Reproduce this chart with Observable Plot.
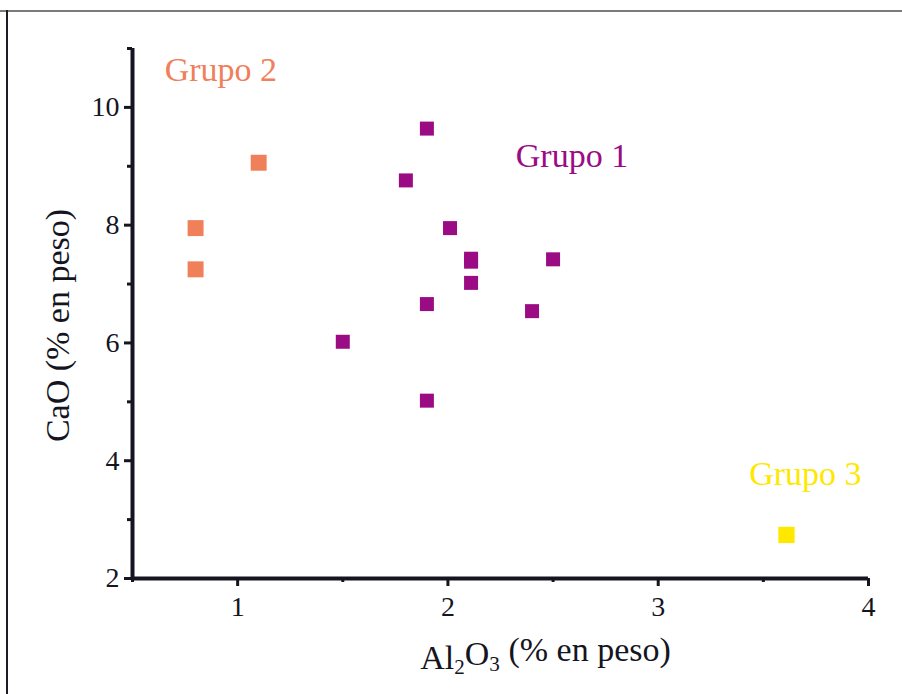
<!DOCTYPE html>
<html>
<head>
<meta charset="utf-8">
<script src="https://cdn.jsdelivr.net/npm/d3@7"></script>
<script src="https://cdn.jsdelivr.net/npm/@observablehq/plot@0.6"></script>
<style>
  html, body { margin: 0; padding: 0; background: #fff; }
  #wrap { position: relative; width: 902px; height: 694px; overflow: hidden; }
  #topline { position: absolute; left: 0; top: 10px; width: 902px; height: 2px; background: #7a7a7a; }
  #leftline { position: absolute; left: 6px; top: 10px; width: 2px; height: 684px; background: #1c1c24; }
  #wrap svg { position: absolute; left: 0; top: 0; }
</style>
</head>
<body>
<div id="wrap"><div id="topline"></div><div id="leftline"></div></div>
<script>
// Grupo 1 (purple)
const g1x = [1.90, 1.80, 2.01, 2.11, 2.11, 2.11, 2.50, 1.90, 2.40, 1.50, 1.90];
const g1y = [9.64, 8.76, 7.95, 7.43, 7.38, 7.02, 7.42, 6.66, 6.54, 6.02, 5.02];
// Grupo 2 (orange)
const g2x = [1.10, 0.80, 0.80];
const g2y = [9.06, 7.95, 7.25];
// Grupo 3 (yellow)
const g3x = [3.61];
const g3y = [2.74];

const groupNames = ["Grupo 1", "Grupo 2", "Grupo 3"];
const groupLabelX = [2.59, 0.92, 3.70];
const groupLabelY = [9.17, 10.63, 3.77];
const groupColors = ["#9b0b83", "#f0805a", "#ffe800"];

const xMajor = [1, 2, 3, 4];
const xMinor = [0.5, 1.5, 2.5, 3.5];
const yMajor = [2, 4, 6, 8, 10];
const yMinor = [3, 5, 7, 9, 11];

const xTitle = "Al2O3 (% en peso)";
const yTitle = "CaO (% en peso)";

const ink = "#15151f";

const g1 = g1x.map((x, i) => ({x, y: g1y[i]}));
const g2 = g2x.map((x, i) => ({x, y: g2y[i]}));
const g3 = g3x.map((x, i) => ({x, y: g3y[i]}));
const labels = groupNames.map((t, i) => ({t, x: groupLabelX[i], y: groupLabelY[i], c: groupColors[i]}));

const chart = Plot.plot({
  width: 902,
  height: 694,
  marginLeft: 132,
  marginRight: 34,
  marginTop: 48,
  marginBottom: 116,
  x: {domain: [0.5, 4]},
  y: {domain: [2, 11]},
  style: {fontFamily: "'Liberation Serif', 'Times New Roman', serif", fontSize: "28px", color: ink, background: "transparent"},
  marks: [
    Plot.axisX({ticks: xMajor, tickSize: 8, tickPadding: 10, stroke: ink, strokeWidth: 3, strokeOpacity: 1, label: null, fontSize: 28, fill: ink, tickFormat: d => String(d)}),
    Plot.axisX({ticks: xMinor, tickSize: 4, stroke: ink, strokeWidth: 3, strokeOpacity: 1, text: null, label: null}),
    Plot.axisY({ticks: yMajor, tickSize: 8, tickPadding: 5, stroke: ink, strokeWidth: 3, strokeOpacity: 1, label: null, fontSize: 28, fill: ink, tickFormat: d => String(d)}),
    Plot.axisY({ticks: yMinor, tickSize: 5, stroke: ink, strokeWidth: 3, strokeOpacity: 1, text: null, label: null}),
    Plot.ruleY([2], {stroke: ink, strokeWidth: 4}),
    Plot.ruleX([0.5], {stroke: ink, strokeWidth: 4}),
    Plot.dot(g1, {x: "x", y: "y", symbol: "square", r: 7.9, fill: groupColors[0], stroke: "none"}),
    Plot.dot(g2, {x: "x", y: "y", symbol: "square", r: 9.0, fill: groupColors[1], stroke: "none"}),
    Plot.dot(g3, {x: "x", y: "y", symbol: "square", r: 9.2, fill: groupColors[2], stroke: "none"}),
    Plot.text(labels, {x: "x", y: "y", text: "t", fill: "c", fontSize: 34}),
    Plot.text([xTitle], {frameAnchor: "bottom", textAnchor: "middle", text: d => d, dx: 45, dy: 90, fontSize: 34, fill: ink}),
    Plot.text([yTitle], {frameAnchor: "left", textAnchor: "middle", text: d => d, rotate: -90, dx: -74, dy: 12, fontSize: 34, fill: ink})
  ]
});

document.getElementById("wrap").appendChild(chart);

// Subscripts for Al2O3 title
d3.select(chart).selectAll("text").each(function() {
  if (this.textContent === xTitle) {
    const t = d3.select(this);
    t.text(null);
    t.append("tspan").text("Al");
    t.append("tspan").attr("dy", "0.28em").attr("font-size", "0.62em").text("2");
    t.append("tspan").attr("dy", "-0.28em").text("O");
    t.append("tspan").attr("dy", "0.28em").attr("font-size", "0.62em").text("3");
    t.append("tspan").attr("dy", "-0.28em").text(" (% en peso)");
  }
});
</script>
</body>
</html>
